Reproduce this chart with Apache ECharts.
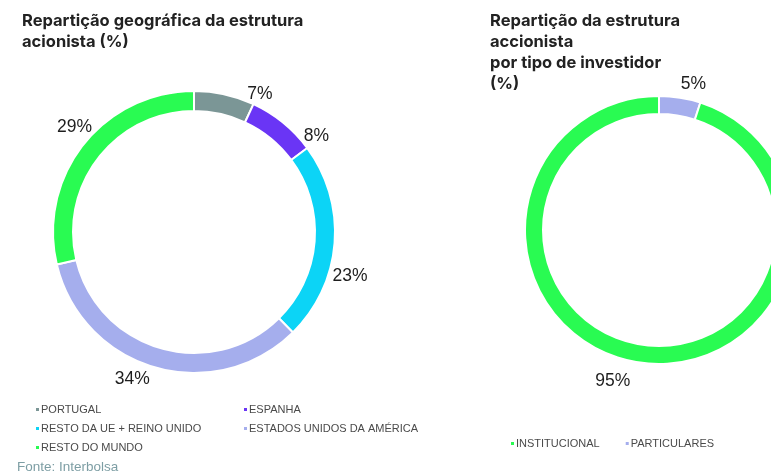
<!DOCTYPE html>
<html>
<head>
<meta charset="utf-8">
<script src="https://cdn.jsdelivr.net/npm/echarts@6/dist/echarts.min.js"></script>
<style>
  html, body { margin: 0; padding: 0; background: #fff; }
  #chart { width: 771px; height: 474px; }
</style>
</head>
<body>
<div id="chart"></div>
<script>
// Geographic breakdown of the shareholder structure (%)
const geoNames = ['PORTUGAL', 'ESPANHA', 'RESTO DA UE + REINO UNIDO', 'ESTADOS UNIDOS DA AMÉRICA', 'RESTO DO MUNDO'];
const geoValues = [7, 8, 23, 34, 29];
const geoColors = ['#7b9696', '#6a35f5', '#0cd4f6', '#a5aeed', '#29fb52'];

// Breakdown by investor type (%), drawn clockwise from the top
const investorNames = ['PARTICULARES', 'INSTITUCIONAL'];
const investorValues = [5, 95];
const investorColors = ['#a5aeed', '#29fb52'];
const investorLegendOrder = ['INSTITUCIONAL', 'PARTICULARES'];

const titleFont = 'Inter, "DejaVu Sans", sans-serif';
const bodyFont = '"Liberation Sans", Arial, sans-serif';

// Ring geometry
const geoCenter = [194, 232], geoRadius = [121, 141];
const invCenter = [659, 230], invRadius = [116, 134];

const chart = echarts.init(document.getElementById('chart'), null, { renderer: 'canvas' });

// Places each value label just outside the ring, near the middle of its
// slice; the label angle is offset + scale * (slice mid-angle).
function ringLabelLayout(values, center, outerR, gap, offsetDeg, scale) {
  const total = values.reduce((a, b) => a + b, 0);
  return function (params) {
    let before = 0;
    for (let i = 0; i < params.dataIndex; i++) before += values[i];
    const midDeg = (before + values[params.dataIndex] / 2) / total * 360;
    const a = (offsetDeg + scale * midDeg) * Math.PI / 180;
    const s = Math.sin(a), c = Math.cos(a);
    const w = params.labelRect.width / 2, h = params.labelRect.height / 2;
    const d = outerR + gap + Math.abs(s) * w + Math.abs(c) * h;
    return {
      x: center[0] + d * s,
      y: center[1] - d * c + 3,
      align: 'center',
      verticalAlign: 'middle'
    };
  };
}

const pieLabel = {
  show: true,
  position: 'outside',
  formatter: '{c}%',
  fontFamily: bodyFont,
  fontSize: 17.5,
  color: '#1e1e1e'
};

const legendCommon = {
  icon: 'rect',
  itemWidth: 5,
  itemHeight: 5,
  itemGap: 8,
  textStyle: { fontFamily: bodyFont, fontSize: 11, color: '#4a4a4a', padding: [0, 0, 0, -4] },
  selectedMode: false
};

chart.setOption({
  animation: false,
  title: [
    {
      text: 'Repartição geográfica da estrutura\nacionista (%)',
      left: 17, top: 6,
      textStyle: { fontFamily: titleFont, fontSize: 16.5, fontWeight: 700, color: '#222', lineHeight: 21 }
    },
    {
      text: 'Repartição da estrutura\naccionista\npor tipo de investidor\n(%)',
      left: 485, top: 6,
      textStyle: { fontFamily: titleFont, fontSize: 16.5, fontWeight: 700, color: '#222', lineHeight: 21 }
    },
    {
      text: 'Fonte: Interbolsa',
      left: 12, top: 455,
      textStyle: { fontFamily: bodyFont, fontSize: 13.5, fontWeight: 'normal', color: '#7d9ea4' }
    }
  ],
  legend: [
    Object.assign({}, legendCommon, {
      orient: 'vertical', left: 29, top: 399,
      data: [geoNames[0], geoNames[2], geoNames[4]]
    }),
    Object.assign({}, legendCommon, {
      orient: 'vertical', left: 237, top: 399,
      data: [geoNames[1], geoNames[3]]
    }),
    Object.assign({}, legendCommon, {
      orient: 'horizontal', left: 504, top: 433, itemGap: 24,
      data: investorLegendOrder
    })
  ],
  series: [
    {
      type: 'pie',
      center: geoCenter,
      radius: geoRadius,
      startAngle: 90,
      clockwise: true,
      avoidLabelOverlap: false,
      label: pieLabel,
      labelLine: { show: false, length: 6, length2: 0 },
      labelLayout: ringLabelLayout(geoValues, geoCenter, geoRadius[1], 1, 13, 0.97),
      itemStyle: { borderColor: '#fff', borderWidth: 2 },
      emphasis: { disabled: true },
      data: geoNames.map((n, i) => ({ name: n, value: geoValues[i], itemStyle: { color: geoColors[i] } }))
    },
    {
      type: 'pie',
      center: invCenter,
      radius: invRadius,
      startAngle: 90,
      clockwise: true,
      avoidLabelOverlap: false,
      label: pieLabel,
      labelLine: { show: false, length: 6, length2: 0 },
      labelLayout: ringLabelLayout(investorValues, invCenter, invRadius[1], 7, 3.8, 1.024),
      itemStyle: { borderColor: '#fff', borderWidth: 2 },
      emphasis: { disabled: true },
      data: investorNames.map((n, i) => ({ name: n, value: investorValues[i], itemStyle: { color: investorColors[i] } }))
    }
  ]
});
</script>
</body>
</html>
